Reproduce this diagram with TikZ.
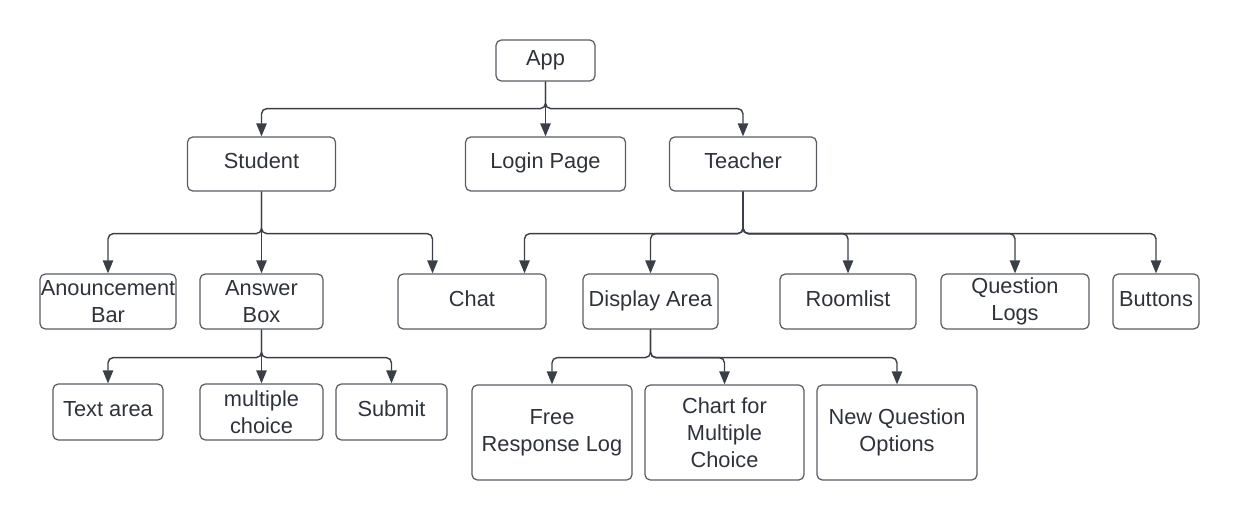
\documentclass[tikz,border=0pt]{standalone}
\usepackage{fontspec}
\setmainfont{Liberation Sans}
\usetikzlibrary{positioning,arrows.meta}
\definecolor{linegray}{HTML}{3A3F47}
\tikzset{>={Triangle[length=7.4pt,width=5.9pt]}}
\tikzset{
  box/.style={draw=linegray!85, line width=0.7pt, rounded corners=3pt, align=center, text=linegray!80!black, inner sep=0pt, font=\fontsize{12.4}{15.3}\selectfont},
  oneline/.style={text height=9pt, text depth=3.5pt},
  conn/.style={->, draw=linegray, line width=0.8pt, rounded corners=3pt}
}

\begin{document}
\begin{tikzpicture}
      \useasboundingbox (0,0) rectangle (24.8,-10.4);
      % top levels
      \node[box, oneline, minimum width=1.98cm, minimum height=0.82cm] (app) at (10.91,-1.21) {App};
      \node[box, oneline, below of=app, node distance=2.07cm, minimum width=3.2cm, minimum height=1.08cm] (login) {Login Page};
      \node[box, oneline, left of=login, node distance=5.68cm, minimum width=2.96cm, minimum height=1.08cm] (student) {Student};
      \node[box, oneline, right of=login, node distance=3.95cm, minimum width=2.94cm, minimum height=1.08cm] (teacher) {Teacher};
      % second row
      \node[box, below of=student, node distance=2.75cm, minimum width=2.46cm, minimum height=1.1cm] (answer) {Answer\\Box};
      \node[box, left of=answer, node distance=3.07cm, minimum width=2.72cm, minimum height=1.1cm] (announce) {Anouncement\\Bar};
      \node[box, oneline, right of=answer, node distance=4.21cm, minimum width=2.96cm, minimum height=1.1cm] (chat) {Chat};
      \node[box, oneline, right of=chat, node distance=3.57cm, minimum width=2.7cm, minimum height=1.1cm] (display) {Display Area};
      \node[box, oneline, right of=display, node distance=3.95cm, minimum width=2.72cm, minimum height=1.1cm] (roomlist) {Roomlist};
      \node[box, right of=roomlist, node distance=3.34cm, minimum width=2.96cm, minimum height=1.1cm] (qlogs) {Question\\Logs};
      \node[box, oneline, right of=qlogs, node distance=2.82cm, minimum width=1.72cm, minimum height=1.1cm] (buttons) {Buttons};
      % third row
      \node[box, below of=answer, node distance=2.21cm, minimum width=2.46cm, minimum height=1.12cm] (multi) {multiple\\choice};
      \node[box, oneline, left of=multi, node distance=3.07cm, minimum width=2.2cm, minimum height=1.12cm] (textarea) {Text area};
      \node[box, oneline, right of=multi, node distance=2.6cm, minimum width=2.22cm, minimum height=1.12cm] (submit) {Submit};
      \node[box, below of=display, node distance=2.62cm, xshift=1.48cm, minimum width=3.18cm, minimum height=1.9cm] (chart) {Chart for\\Multiple\\Choice};
      \node[box, left of=chart, node distance=3.45cm, minimum width=3.2cm, minimum height=1.9cm] (freeresp) {Free\\Response Log};
      \node[box, right of=chart, node distance=3.45cm, minimum width=3.2cm, minimum height=1.9cm] (newq) {New Question\\Options};
      % connectors
      \draw[conn] (app.south) -- ++(0,-0.54) -| (student.north);
      \draw[conn] (app.south) -- (app.south |- login.north);
      \draw[conn] (app.south) -- ++(0,-0.54) -| (teacher.north);
      \draw[conn] (student.south) -- ++(0,-0.84) -| (announce.north);
      \draw[conn] (student.south) -- (student.south |- answer.north);
      \draw[conn] (student.south) -- ++(0,-0.84) -| ([xshift=-0.79cm]chat.north);
      \draw[conn] (teacher.south) -- ++(0,-0.84) -| ([xshift=1.05cm]chat.north);
      \draw[conn] (teacher.south) -- ++(0,-0.84) -| (display.north);
      \draw[conn] (teacher.south) -- ++(0,-0.84) -| (roomlist.north);
      \draw[conn] (teacher.south) -- ++(0,-0.84) -| (qlogs.north);
      \draw[conn] (teacher.south) -- ++(0,-0.84) -| (buttons.north);
      \draw[conn] (answer.south) -- ++(0,-0.56) -| (textarea.north);
      \draw[conn] (answer.south) -- (multi.north);
      \draw[conn] (answer.south) -- ++(0,-0.56) -| (submit.north);
      \draw[conn] (display.south) -- ++(0,-0.56) -| (freeresp.north);
      \draw[conn] (display.south) -- ++(0,-0.56) -| (chart.north);
      \draw[conn] (display.south) -- ++(0,-0.56) -| (newq.north);
\end{tikzpicture}
\end{document}
